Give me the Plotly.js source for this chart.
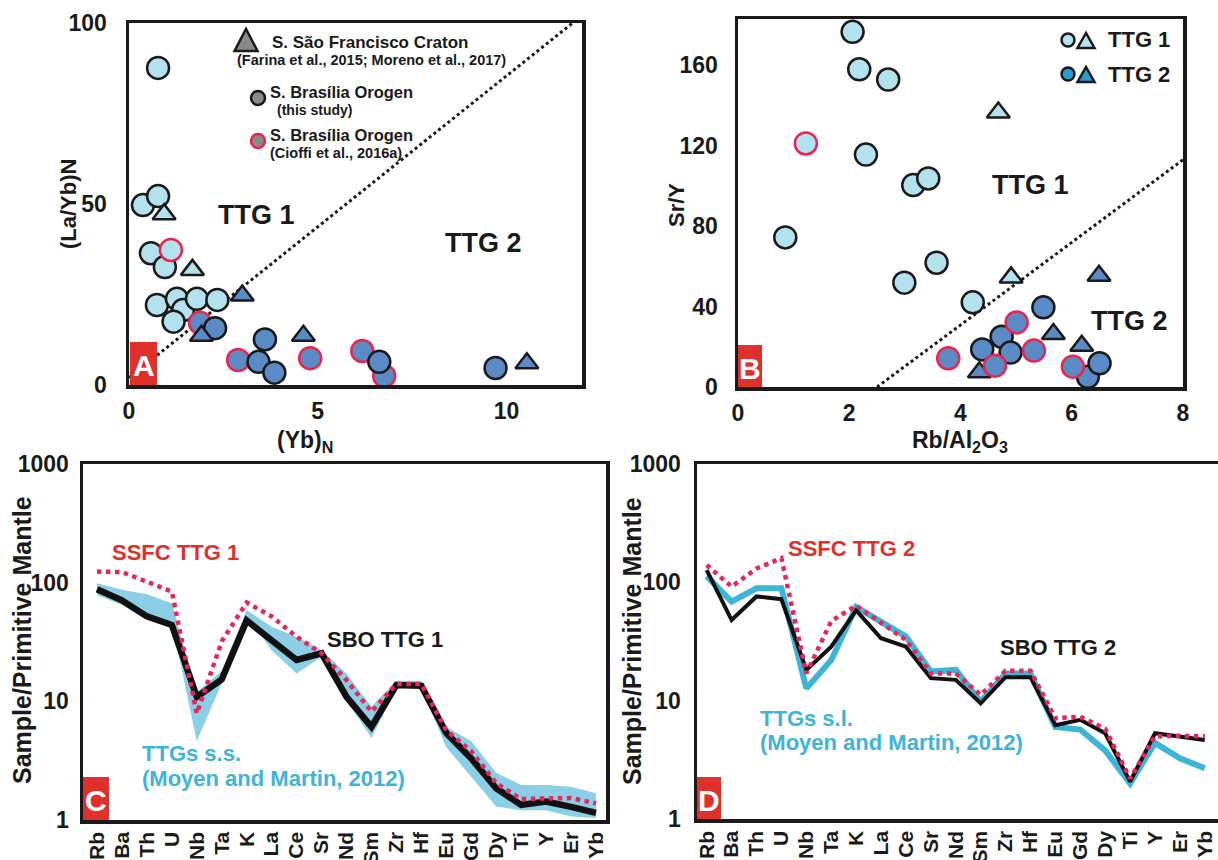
<!DOCTYPE html>
<html>
<head>
<meta charset="utf-8">
<script src="https://cdn.plot.ly/plotly-3.0.1.min.js"></script>
<style>html,body{margin:0;padding:0;background:#fff;}#chart{width:1218px;height:860px;}</style>
</head>
<body>
<div id="chart"></div>
<script>
// ---------- Panel A: (La/Yb)N vs (Yb)N ----------
const aTTG1CircX = [0.77, 0.37, 0.77, 0.58, 0.95, 0.74, 1.27, 1.43, 1.18, 1.80, 2.34];
const aTTG1CircY = [87.6, 49.7, 52.2, 36.4, 32.6, 22.1, 23.8, 20.7, 17.5, 23.8, 23.5];
const aTTG1RedX = [1.11];
const aTTG1RedY = [37.3];
const aTTG1TriX = [0.93, 1.68];
const aTTG1TriY = [47.2, 31.8];
const aTTG2CircX = [2.28, 3.60, 3.43, 3.85, 6.63, 9.71];
const aTTG2CircY = [15.7, 12.6, 6.4, 3.4, 6.4, 4.7];
const aTTG2RedX = [1.88, 2.89, 4.80, 6.18, 6.76];
const aTTG2RedY = [17.2, 6.9, 7.4, 9.4, 2.5];
const aTTG2TriX = [3.00, 1.92, 4.62, 10.54];
const aTTG2TriY = [24.7, 13.6, 13.6, 6.0];
const aDivideX = [0, 11.75];
const aDivideY = [2, 100];
const aXTicks = [0, 5, 10];
const aYTicks = [0, 50, 100];

// ---------- Panel B: Sr/Y vs Rb/Al2O3 ----------
const bTTG1CircX = [2.06, 2.18, 2.70, 2.30, 3.15, 3.42, 0.85, 3.57, 2.99, 4.22];
const bTTG1CircY = [176.6, 158, 152.9, 115.6, 100.4, 103.7, 74.4, 61.8, 51.9, 42.1];
const bTTG1RedX = [1.22];
const bTTG1RedY = [121.1];
const bTTG1TriX = [4.68, 4.91];
const bTTG1TriY = [136.5, 54.5];
const bTTG2TriX = [6.49, 5.67, 6.18, 4.34];
const bTTG2TriY = [55.3, 26.3, 20.5, 7.3];
const bTTG2CircX = [6.29, 5.49, 4.74, 4.39, 4.90, 6.50];
const bTTG2CircY = [5.1, 39.6, 25.0, 18.7, 17.1, 11.8];
const bTTG2RedX = [3.78, 5.01, 4.62, 5.32, 6.02];
const bTTG2RedY = [14.3, 32.1, 10.6, 18.1, 10.1];
const bDivideX = [2.5, 8];
const bDivideY = [0, 113];
const bXTicks = [0, 2, 4, 6, 8];
const bYTicks = [0, 40, 80, 120, 160];

// ---------- Panels C & D: primitive-mantle normalised spidergrams ----------
const elements = ['Rb','Ba','Th','U','Nb','Ta','K','La','Ce','Sr','Nd','Sm','Zr','Hf','Eu','Gd','Dy','Ti','Y','Er','Yb'];
const sboTTG1  = [88, 71, 52, 44, 10.9, 15.3, 48, 33, 22.3, 25.4, 10.9, 6.1, 13.7, 13.5, 5.4, 3.3, 1.85, 1.34, 1.43, 1.29, 1.15];
const ssfcTTG1 = [124, 123, 102, 84, 7.9, 32, 68, 52, 35, 25.4, 15.1, 8.2, 14, 14, 5.7, 3.8, 2.04, 1.5, 1.52, 1.53, 1.38];
const ttgSsUpper = [99, 87, 80, 67, 12, 18, 58.8, 42.5, 35, 27, 17.2, 9, 14.9, 14.9, 6.1, 4.6, 2.5, 1.97, 1.97, 1.91, 1.68];
const ttgSsLower = [78.7, 64.7, 48.4, 46.9, 4.6, 14.2, 53, 27, 17.2, 23.8, 10.3, 4.9, 12.9, 12.9, 4.1, 2.3, 1.3, 1.21, 1.21, 1.07, 1.04];
const sboTTG2  = [127, 48, 76, 72, 18.2, 28.6, 58, 33.7, 28.6, 15.5, 15, 9.5, 15.8, 15.8, 6.2, 6.9, 5.3, 2.07, 5.3, 5.0, 4.65];
const ssfcTTG2 = [140, 92, 131, 160, 17, 47, 63.6, 45, 32.6, 17, 17, 11.2, 17.9, 17.9, 7.1, 7.3, 5.8, 2.2, 5.0, 5.05, 5.0];
const ttgSl    = [113, 68.7, 89, 89, 12.7, 22, 62, 46.5, 34.8, 17.6, 18.2, 9.8, 17, 17, 6.0, 5.7, 3.8, 2.0, 4.4, 3.26, 2.68];
const logTicks = [1, 10, 100, 1000];

// ---------- styling ----------
const W = 1218, H = 860;
const PX = x => x / W;
const PY = y => 1 - y / H;
const FONT = 'Arial, "Liberation Sans", Helvetica, sans-serif';
const INK = '#1a1a1a';
const LIGHT = '#b3e2ee';
const DARK = '#5b8bc6';
const REDEDGE = '#e8264e';
const BOXRED = '#e0302b';
const CYAN = '#3db4d8';
const BAND = '#8acfe6';
const DOTRED = '#e8265a';
const MS = 22, TS = 20, LW = 2.5;
const bold = arr => arr.map(v => '<b>' + v + '</b>');

function pts(x, y, xa, ya, fill, edge, sym, size) {
  return {type: 'scatter', mode: 'markers', x: x, y: y, xaxis: xa, yaxis: ya,
    hoverinfo: 'skip', showlegend: false,
    marker: {symbol: sym, size: size, color: fill, line: {color: edge, width: LW}}};
}
function line(x, y, xa, ya, color, width, dash) {
  return {type: 'scatter', mode: 'lines', x: x, y: y, xaxis: xa, yaxis: ya,
    hoverinfo: 'skip', showlegend: false, line: {color: color, width: width, dash: dash || 'solid'}};
}

const traces = [
  // Panel A
  line(aDivideX, aDivideY, 'x', 'y', INK, 3, 'dot'),
  pts(aTTG1CircX, aTTG1CircY, 'x', 'y', LIGHT, INK, 'circle', MS),
  pts(aTTG1RedX, aTTG1RedY, 'x', 'y', LIGHT, REDEDGE, 'circle', MS),
  pts(aTTG2RedX, aTTG2RedY, 'x', 'y', DARK, REDEDGE, 'circle', MS),
  pts(aTTG2CircX, aTTG2CircY, 'x', 'y', DARK, INK, 'circle', MS),
  pts(aTTG1TriX, aTTG1TriY, 'x', 'y', LIGHT, INK, 'triangle-up', TS),
  pts(aTTG2TriX, aTTG2TriY, 'x', 'y', DARK, INK, 'triangle-up', TS),
  // Panel B
  line(bDivideX, bDivideY, 'x2', 'y2', INK, 3, 'dot'),
  pts(bTTG1CircX, bTTG1CircY, 'x2', 'y2', LIGHT, INK, 'circle', MS),
  pts(bTTG1RedX, bTTG1RedY, 'x2', 'y2', LIGHT, REDEDGE, 'circle', MS),
  pts(bTTG1TriX, bTTG1TriY, 'x2', 'y2', LIGHT, INK, 'triangle-up', TS),
  pts(bTTG2TriX, bTTG2TriY, 'x2', 'y2', DARK, INK, 'triangle-up', TS),
  pts(bTTG2CircX, bTTG2CircY, 'x2', 'y2', DARK, INK, 'circle', MS),
  pts(bTTG2RedX, bTTG2RedY, 'x2', 'y2', DARK, REDEDGE, 'circle', MS),
  // Panel C
  {type: 'scatter', mode: 'lines', x: elements, y: ttgSsLower, xaxis: 'x3', yaxis: 'y3',
   line: {width: 0, color: BAND}, hoverinfo: 'skip', showlegend: false},
  {type: 'scatter', mode: 'lines', x: elements, y: ttgSsUpper, xaxis: 'x3', yaxis: 'y3',
   fill: 'tonexty', fillcolor: BAND, line: {width: 0, color: BAND}, hoverinfo: 'skip', showlegend: false},
  line(elements, sboTTG1, 'x3', 'y3', '#111', 6.5),
  line(elements, ssfcTTG1, 'x3', 'y3', DOTRED, 4.5, 'dot'),
  // Panel D
  line(elements, ttgSl, 'x4', 'y4', CYAN, 6),
  line(elements, sboTTG2, 'x4', 'y4', '#111', 4),
  line(elements, ssfcTTG2, 'x4', 'y4', DOTRED, 4.5, 'dot')
];

function axisBase(extra) {
  return Object.assign({showline: true, mirror: true, linewidth: 3.5, linecolor: INK,
    showgrid: false, zeroline: false, ticks: '', fixedrange: true,
    tickfont: {family: FONT, size: 23, color: INK}}, extra);
}
const catFont = {family: FONT, size: 21, color: INK};

const layout = {
  width: W, height: H,
  margin: {l: 0, r: 0, t: 0, b: 0},
  paper_bgcolor: '#fff', plot_bgcolor: 'rgba(0,0,0,0)',
  font: {family: FONT, color: INK},
  showlegend: false,
  xaxis:  axisBase({domain: [PX(129), PX(582)], range: [0, 12], tickmode: 'array', tickvals: aXTicks, ticktext: bold(aXTicks), anchor: 'y', ticklabelstandoff: 3}),
  yaxis:  axisBase({domain: [PY(385), PY(23)], range: [0, 100], tickmode: 'array', tickvals: aYTicks, ticktext: bold(aYTicks), anchor: 'x', ticklabelstandoff: 14}),
  xaxis2: axisBase({domain: [PX(738), PX(1183)], range: [0, 8], tickmode: 'array', tickvals: bXTicks, ticktext: bold(bXTicks), anchor: 'y2', ticklabelstandoff: 3}),
  yaxis2: axisBase({domain: [PY(387), PY(19)], range: [0, 183], tickmode: 'array', tickvals: bYTicks, ticktext: bold(bYTicks), anchor: 'x2', ticklabelstandoff: 12}),
  xaxis3: axisBase({domain: [PX(83), PX(606)], type: 'category', range: [-0.56, 20.4], anchor: 'y3',
    tickmode: 'array', tickvals: elements, ticktext: bold(elements),
    tickangle: -90, tickfont: catFont, ticklabelstandoff: 0}),
  yaxis3: axisBase({domain: [PY(820), PY(464)], type: 'log', range: [0, 3], tickmode: 'array', tickvals: logTicks, ticktext: bold(logTicks), anchor: 'x3', ticklabelstandoff: 6}),
  xaxis4: axisBase({domain: [PX(697), 1], type: 'category', range: [-0.39, 20.53], anchor: 'y4',
    tickmode: 'array', tickvals: elements, ticktext: bold(elements),
    tickangle: -90, tickfont: catFont, ticklabelstandoff: 0}),
  yaxis4: axisBase({domain: [PY(819), PY(464)], type: 'log', range: [0, 3], tickmode: 'array', tickvals: logTicks, ticktext: bold(logTicks), anchor: 'x4', ticklabelstandoff: 8}),
  shapes: [],
  annotations: []
};

function note(text, x, y, size, color, xanchor, angle) {
  layout.annotations.push({text: '<b>' + text + '</b>', xref: 'paper', yref: 'paper', x: PX(x), y: PY(y),
    xanchor: xanchor || 'center', yanchor: 'middle', showarrow: false, textangle: angle || 0,
    font: {family: FONT, size: size, color: color || INK}});
}
function panelTag(letter, x0, x1, y0, y1) {
  layout.shapes.push({type: 'rect', xref: 'paper', yref: 'paper', x0: PX(x0), x1: PX(x1), y0: PY(y1), y1: PY(y0),
    fillcolor: BOXRED, line: {width: 0}, layer: 'above'});
  note(letter, (x0 + x1) / 2, (y0 + y1) / 2 + 2, 30, '#ffffff');
}
function legendCircle(x, y, r, fill, edge) {
  layout.shapes.push({type: 'circle', xref: 'paper', yref: 'paper', xsizemode: 'pixel', ysizemode: 'pixel',
    xanchor: PX(x), yanchor: PY(y), x0: -r, x1: r, y0: -r, y1: r,
    fillcolor: fill, line: {color: edge, width: 2.5}, layer: 'above'});
}
function legendTri(x, y, hw, up, down, fill) {
  layout.shapes.push({type: 'path', xref: 'paper', yref: 'paper', xsizemode: 'pixel', ysizemode: 'pixel',
    xanchor: PX(x), yanchor: PY(y), path: `M${-hw},${-down} L${hw},${-down} L0,${up} Z`,
    fillcolor: fill, line: {color: INK, width: 2.5}, layer: 'above'});
}

// Panel A texts & legend
note('TTG 1', 256, 215, 27);
note('TTG 2', 483, 243, 27);
legendTri(246, 41, 11.5, 12, 10, '#8a8a8a');
note('S. São Francisco Craton', 270, 42, 17, INK, 'left');
note('(Farina et al., 2015; Moreno et al., 2017)', 371, 60, 14.5);
legendCircle(258, 98, 7, '#8a8a8a', INK);
note('S. Brasília Orogen', 268, 92, 16.5, INK, 'left');
note('(this study)', 275, 110, 14, INK, 'left');
legendCircle(258, 141, 7, '#8a8a8a', REDEDGE);
note('S. Brasília Orogen', 268, 135, 16.5, INK, 'left');
note('(Cioffi et al., 2016a)', 268, 153, 14.5, INK, 'left');
note('(La/Yb)N', 68, 204, 22, INK, 'center', -90);
note('(Yb)<sub>N</sub>', 305, 441, 23);
panelTag('A', 130, 157, 342, 385);

// Panel B texts & legend
note('TTG 1', 1030, 185, 27);
note('TTG 2', 1129, 321, 27);
legendCircle(1068, 40, 6.5, LIGHT, INK);
legendTri(1086, 41, 8.5, 8, 7, LIGHT);
note('TTG 1', 1106, 40, 22, INK, 'left');
legendCircle(1068, 74, 6.5, '#2b9bd2', INK);
legendTri(1086, 75, 8.5, 8, 7, '#2b9bd2');
note('TTG 2', 1106, 74, 22, INK, 'left');
note('Sr/Y', 677, 205, 22, INK, 'center', -90);
note('Rb/Al<sub>2</sub>O<sub>3</sub>', 960, 441, 23);
panelTag('B', 738, 762, 345, 387);

// Panel C texts
note('SSFC TTG 1', 110, 552, 22, BOXRED, 'left');
note('SBO TTG 1', 325, 639, 22, INK, 'left');
note('TTGs s.s.', 140, 753, 22, CYAN, 'left');
note('(Moyen and Martin, 2012)', 140, 778, 22, CYAN, 'left');
note('Sample/Primitive Mantle', 22, 640, 25, INK, 'center', -90);
panelTag('C', 83, 109, 777, 820);

// Panel D texts
note('SSFC TTG 2', 786, 548, 22, BOXRED, 'left');
note('SBO TTG 2', 998, 647, 22, INK, 'left');
note('TTGs s.l.', 758, 718, 22, CYAN, 'left');
note('(Moyen and Martin, 2012)', 758, 742, 22, CYAN, 'left');
note('Sample/Primitive Mantle', 632, 641, 25, INK, 'center', -90);
panelTag('D', 697, 721, 777, 819);

Plotly.newPlot('chart', traces, layout, {displayModeBar: false, staticPlot: true});
</script>
</body>
</html>
